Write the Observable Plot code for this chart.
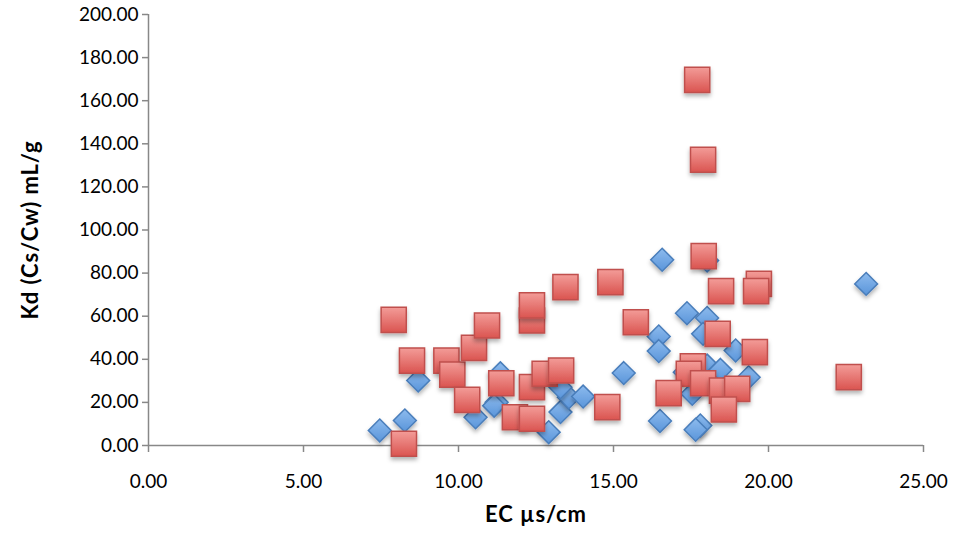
<!DOCTYPE html>
<html>
<head>
<meta charset="utf-8">
<script src="https://cdn.jsdelivr.net/npm/d3@7"></script>
<script src="https://cdn.jsdelivr.net/npm/@observablehq/plot@0.6"></script>
<style>
  html, body { margin: 0; padding: 0; background: #fff; }
  #chart { width: 965px; height: 539px; }
</style>
</head>
<body>
<div id="chart"></div>
<script>
// Series 1 (blue diamonds)
const blueX = [7.46, 8.27, 8.7, 10.55, 11.35, 11.23, 11.15, 12.91, 13.29, 13.56, 14.02, 13.29, 15.33, 16.46, 16.46, 16.5, 16.57, 18.02, 23.15, 17.37, 18.02, 17.89, 18.94, 18.02, 18.45, 19.36, 17.54, 17.8, 17.65, 17.3];
const blueY = [7.0, 11.6, 30.2, 13.1, 33.5, 20.1, 18.5, 6.2, 15.5, 22.4, 22.7, 27.0, 33.6, 50.6, 43.8, 11.4, 86.2, 85.8, 75.0, 61.4, 59.2, 51.8, 44.1, 37.1, 35.1, 31.7, 24.0, 9.3, 7.3, 34.0];
// Series 2 (red squares)
const redX = [7.91, 8.5, 8.24, 9.61, 9.8, 10.5, 10.92, 10.28, 11.38, 11.82, 12.37, 12.37, 12.37, 12.37, 12.78, 13.31, 13.45, 14.9, 15.72, 14.8, 17.7, 17.89, 17.91, 18.47, 19.69, 19.6, 18.36, 19.56, 17.56, 17.43, 16.78, 17.89, 18.5, 18.99, 18.56, 22.59];
const redY = [58.3, 39.4, 0.8, 39.4, 32.9, 45.3, 55.7, 21.2, 28.9, 13.1, 12.4, 27.1, 58.0, 65.0, 33.3, 34.8, 73.5, 75.8, 57.2, 17.8, 169.7, 132.6, 87.9, 71.6, 75.0, 71.6, 51.8, 43.3, 36.7, 33.3, 24.3, 28.9, 25.5, 26.3, 16.7, 31.7];
const xTicks = [0, 5, 10, 15, 20, 25];
const yTicks = [0, 20, 40, 60, 80, 100, 120, 140, 160, 180, 200];
const xLabel = "EC µs/cm";
const yLabel = "Kd (Cs/Cw) mL/g";

const blue = blueX.map((x, i) => ({x, y: blueY[i]}));
const red = redX.map((x, i) => ({x, y: redY[i]}));
const fmt = d => d.toFixed(2);
const axisColor = "#888888";
const font = "Lato, 'Open Sans', sans-serif";

const chart = Plot.plot({
  width: 965,
  height: 539,
  marginLeft: 148,
  marginRight: 42,
  marginTop: 14,
  marginBottom: 94,
  style: {fontFamily: font, fontSize: "19px", color: "#000", background: "#fff"},
  x: {domain: [0, 25]},
  y: {domain: [0, 200]},
  marks: [
    Plot.axisX({ticks: xTicks, tickFormat: fmt, tickSize: 7, tickPadding: 22, stroke: axisColor, strokeWidth: 1.5, fill: "#000", fontSize: 19, label: null}),
    Plot.axisY({ticks: yTicks, tickFormat: fmt, tickSize: 6, tickPadding: 4, stroke: axisColor, strokeWidth: 1.5, fill: "#000", fontSize: 19, label: null}),
    Plot.ruleY([0], {stroke: axisColor, strokeWidth: 1.5}),
    Plot.ruleX([0], {stroke: axisColor, strokeWidth: 1.5}),
    Plot.dot(blue, {x: "x", y: "y", symbol: "diamond2", r: 10.3, fill: "url(#gradBlue)", stroke: "#4a7ebb", strokeWidth: 1.5, fillOpacity: 1}),
    Plot.dot(red, {x: "x", y: "y", symbol: "square", r: 14.2, fill: "url(#gradRed)", stroke: "#c0504d", strokeWidth: 1.5, fillOpacity: 1}),
    Plot.text([yLabel], {frameAnchor: "left", textAnchor: "middle", rotate: -90, dx: -118, fontWeight: "bold", fontSize: 22, fill: "#000"}),
    Plot.text([xLabel], {frameAnchor: "bottom", textAnchor: "middle", dy: 76, fontWeight: "bold", fontSize: 22, fill: "#000"})
  ]
});

// gradients and shadow for marker styling
const ns = "http://www.w3.org/2000/svg";
const defs = document.createElementNS(ns, "defs");
defs.innerHTML = `
  <linearGradient id="gradBlue" x1="0" y1="0" x2="0" y2="1">
    <stop offset="0" stop-color="#8dbbee"/>
    <stop offset="1" stop-color="#5a95da"/>
  </linearGradient>
  <linearGradient id="gradRed" x1="0" y1="0" x2="0" y2="1">
    <stop offset="0" stop-color="#f39c98"/>
    <stop offset="1" stop-color="#da5450"/>
  </linearGradient>
  <filter id="shadow" x="-30%" y="-30%" width="160%" height="180%">
    <feDropShadow dx="0" dy="3" stdDeviation="2" flood-color="#000" flood-opacity="0.3"/>
  </filter>`;
chart.insertBefore(defs, chart.firstChild);
chart.querySelectorAll("g[aria-label='dot'] path").forEach(p => p.setAttribute("filter", "url(#shadow)"));
chart.querySelectorAll("g[aria-label='text'] text").forEach(t => t.style.letterSpacing = "0.9px");
document.getElementById("chart").appendChild(chart);
</script>
</body>
</html>
